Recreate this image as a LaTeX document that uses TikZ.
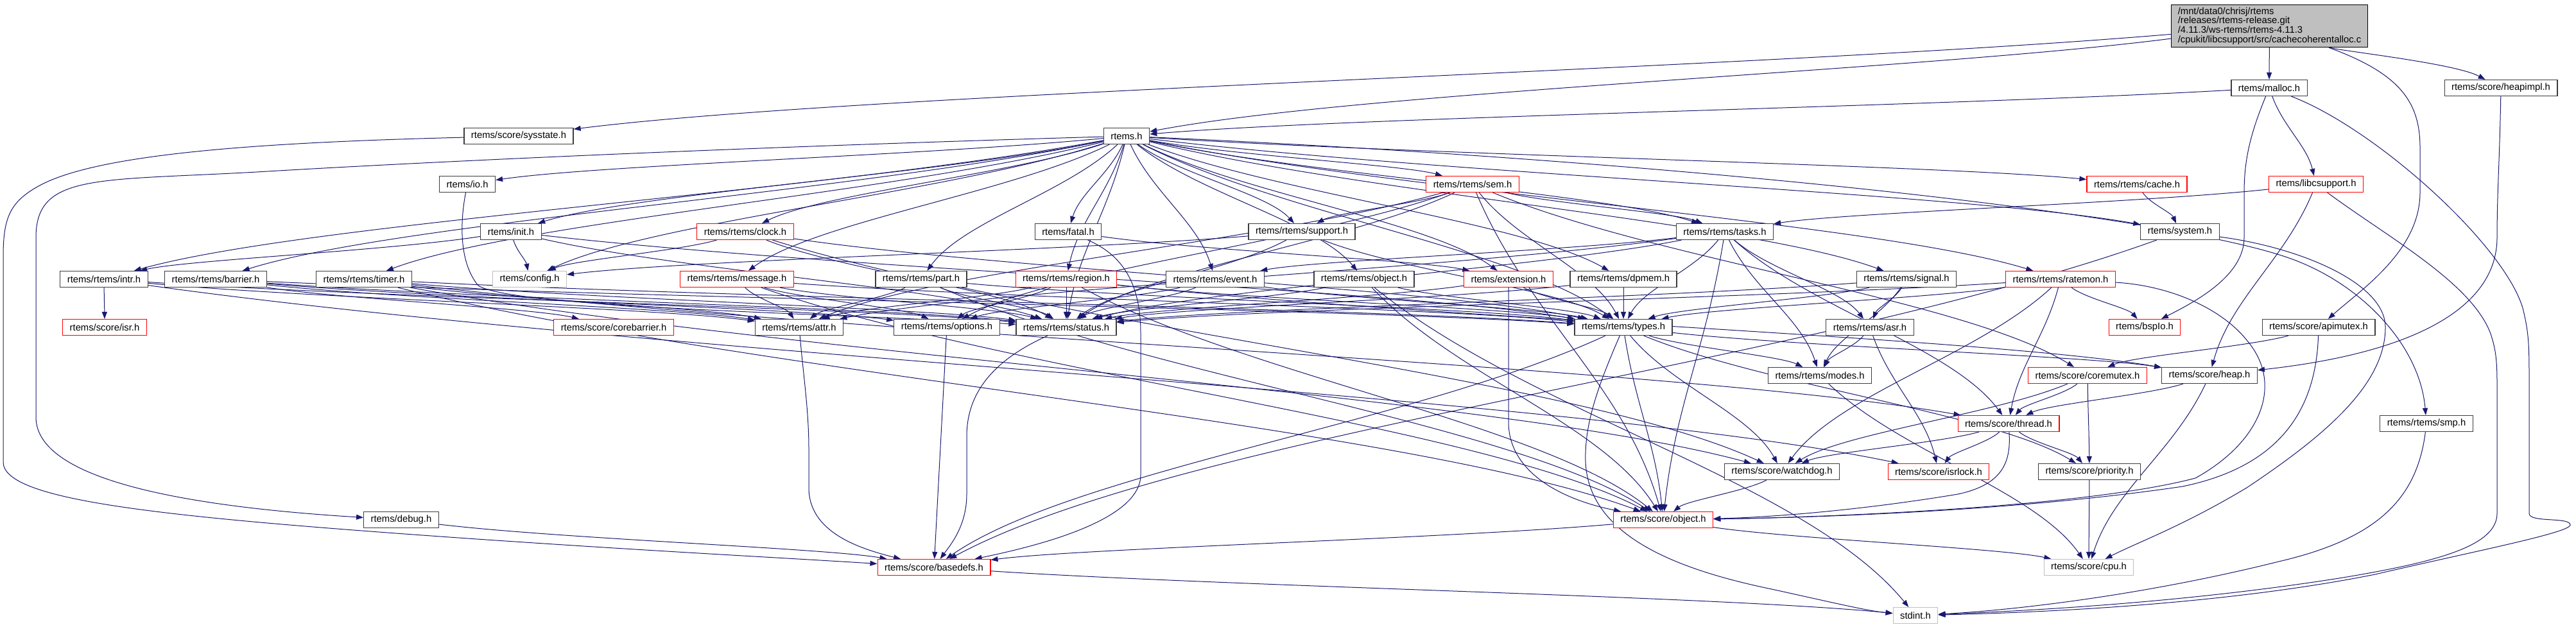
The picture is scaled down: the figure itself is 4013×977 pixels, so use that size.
\documentclass[tikz,border=0pt]{standalone}
\usepackage{fontspec}
\setmainfont{Liberation Sans}
\usetikzlibrary{arrows.meta,calc}
\pgfdeclarelayer{bg}
\pgfsetlayers{bg,main}
\definecolor{edgeblue}{RGB}{25,25,112}
\definecolor{nodeborder}{RGB}{60,60,60}
\definecolor{lightborder}{RGB}{191,191,191}
\definecolor{topfill}{RGB}{191,191,191}
\definecolor{truncred}{RGB}{255,0,0}
\tikzset{
  file/.style={draw=nodeborder, line width=1.2pt, fill=white, rectangle, minimum height=25pt, inner xsep=11pt, inner ysep=0pt, font=\fontsize{14.8}{14.8}\selectfont},
  trunc/.style={file, draw=truncred},
  extfile/.style={file, draw=lightborder},
  rootfile/.style={file, fill=topfill, draw=black, align=left, inner xsep=10.5pt, inner ysep=4pt},
  inclink/.style={draw=edgeblue, line width=1pt, -{Triangle[length=11pt,width=8pt]}},
}
\newcommand\incl[2]{\draw[inclink] let \p1=(#1.center), \p2=(#2.center) in (#1) .. controls ({\x1+0.3*(\x2-\x1)},{\y1+0.4*(\y2-\y1)}) and ({\x2-0.2*(\x2-\x1)},{\y2-0.4*(\y2-\y1)}) .. (#2);}
\newcommand\incls[2]{\foreach \tgt in {#2} {\incl{#1}{\tgt}}}
\begin{document}
\begin{tikzpicture}[x=1pt,y=-1pt]
\useasboundingbox (0,0) rectangle (4013,977);
% nodes
\node[rootfile] (top) at (3535.5,40.5) {/mnt/data0/chrisj/rtems\\/releases/rtems-release.git\\/4.11.3/ws-rtems/rtems-4.11.3\\/cpukit/libcsupport/src/cachecoherentalloc.c};
\node[file] (malloc) at (3535,137) {rtems/malloc.h};
\node[file] (heapimpl) at (3896,137) {rtems/score/heapimpl.h};
\node[file] (sysstate) at (808,212) {rtems/score/sysstate.h};
\node[file] (rtems) at (1755,212) {rtems.h};
\node[file] (io) at (728,287) {rtems/io.h};
\node[trunc] (sem) at (2294,287) {rtems/rtems/sem.h};
\node[trunc] (cache) at (3329,287) {rtems/rtems/cache.h};
\node[trunc] (libc) at (3608,287) {rtems/libcsupport.h};
\node[file] (init) at (796,361) {rtems/init.h};
\node[trunc] (clock) at (1161,361) {rtems/rtems/clock.h};
\node[file] (fatal) at (1664,361) {rtems/fatal.h};
\node[file] (support) at (2028,361) {rtems/rtems/support.h};
\node[file] (tasks) at (2687,361) {rtems/rtems/tasks.h};
\node[file] (system) at (3396,361) {rtems/system.h};
\node[file] (intr) at (162,435) {rtems/rtems/intr.h};
\node[file] (barrier) at (336,435) {rtems/rtems/barrier.h};
\node[file] (timer) at (567,435) {rtems/rtems/timer.h};
\node[extfile] (config) at (825,435) {rtems/config.h};
\node[trunc] (message) at (1148,435) {rtems/rtems/message.h};
\node[file] (part) at (1435,435) {rtems/rtems/part.h};
\node[trunc] (region) at (1661,435) {rtems/rtems/region.h};
\node[file] (event) at (1893,435) {rtems/rtems/event.h};
\node[file] (robject) at (2125,435) {rtems/rtems/object.h};
\node[trunc] (extension) at (2350,435) {rtems/extension.h};
\node[file] (dpmem) at (2529,435) {rtems/rtems/dpmem.h};
\node[file] (signal) at (2970,435) {rtems/rtems/signal.h};
\node[trunc] (ratemon) at (3210,435) {rtems/rtems/ratemon.h};
\node[trunc] (isr) at (163,510) {rtems/score/isr.h};
\node[trunc] (corebarrier) at (956,510) {rtems/score/corebarrier.h};
\node[file] (attr) at (1245,510) {rtems/rtems/attr.h};
\node[file] (options) at (1475,510) {rtems/rtems/options.h};
\node[file] (status) at (1661,510) {rtems/rtems/status.h};
\node[file] (types) at (2529,510) {rtems/rtems/types.h};
\node[file] (asr) at (2913,510) {rtems/rtems/asr.h};
\node[trunc] (bspio) at (3341,510) {rtems/bspIo.h};
\node[file] (apimutex) at (3612,510) {rtems/score/apimutex.h};
\node[file] (modes) at (2835,585) {rtems/rtems/modes.h};
\node[trunc] (coremutex) at (3252,585) {rtems/score/coremutex.h};
\node[file] (heap) at (3442,585) {rtems/score/heap.h};
\node[trunc] (thread) at (3129,660) {rtems/score/thread.h};
\node[file] (smp) at (3780,660) {rtems/rtems/smp.h};
\node[file] (watchdog) at (2776,735) {rtems/score/watchdog.h};
\node[trunc] (isrlock) at (3020,735) {rtems/score/isrlock.h};
\node[file] (priority) at (3255,735) {rtems/score/priority.h};
\node[file] (debug) at (625,810) {rtems/debug.h};
\node[trunc] (sobject) at (2591,810) {rtems/score/object.h};
\node[trunc] (basedefs) at (1455,884) {rtems/score/basedefs.h};
\node[extfile] (cpu) at (3254,884) {rtems/score/cpu.h};
\node[extfile] (stdint) at (2984,959) {stdint.h};
\begin{pgfonlayer}{bg}
\fill[white] (0,0) rectangle (4013,977);
% generic edges
\incls{top}{rtems,malloc,heapimpl,sysstate}
\incls{malloc}{rtems,libc}
\incls{libc}{tasks,heap}
\incls{rtems}{io,init,intr,barrier,timer,clock,message,sem,config,fatal,support,tasks,part,region,event,robject,extension,dpmem,signal,ratemon,cache,system,status,types}
\incls{init}{intr,config,status,types}
\incls{sem}{support,tasks,attr,options,status,types,coremutex,sobject}
\incls{cache}{system}
\incls{clock}{config,status,types,watchdog}
\incls{fatal}{extension}
\incls{support}{types,status,config}
\incls{tasks}{asr,attr,status,types,modes,sobject,thread,event}
\incls{system}{basedefs}
\incls{intr}{attr,status,isr,isrlock}
\incls{barrier}{attr,status,types,options,corebarrier}
\incls{timer}{attr,status,types,sobject,watchdog,thread}
\incls{message}{attr,status,types,options,sobject}
\incls{part}{attr,status,types,sobject}
\incls{region}{attr,status,types,options,heap,sobject}
\incls{event}{status,types,options}
\incls{robject}{types,status,sobject,stdint}
\incls{extension}{status,types}
\incls{dpmem}{status,types}
\incls{signal}{asr,modes,status,types}
\incls{ratemon}{status,types,watchdog,thread,bspio}
\incls{types}{basedefs,heap,sobject,priority,watchdog,modes}
\incls{asr}{modes,isrlock}
\incls{apimutex}{coremutex}
\incls{modes}{cpu}
\incls{coremutex}{thread,watchdog,priority}
\incls{heap}{thread,cpu}
\incls{thread}{watchdog,isrlock,priority}
\incls{watchdog}{sobject}
\incls{priority}{cpu}
\incls{sobject}{basedefs,cpu}
\incls{debug}{basedefs}
\incls{basedefs}{stdint}
% hand-routed edges
\draw[inclink] (options) -- (basedefs);
\draw[inclink] (top) .. controls (3740,115) and (3770,160) .. (3770,230) -- (3770,300) .. controls (3770,390) and (3680,450) .. (apimutex);
\draw[inclink] (malloc) .. controls (3505,210) and (3496,250) .. (3496,300) -- (3496,370) .. controls (3496,430) and (3420,470) .. (bspio);
\draw[inclink] (malloc) .. controls (3700,200) and (3900,380) .. (3930,480) .. controls (3940,520) and (3940,540) .. (3940,600) -- (3940,800) .. controls (3940,815) and (4004,805) .. (4004,818) .. controls (4004,830) and (3850,860) .. (3700,895) .. controls (3450,945) and (3150,955) .. (stdint);
\draw[inclink] (libc) .. controls (3720,370) and (3850,440) .. (3880,520) .. controls (3888,545) and (3890,560) .. (3890,600) -- (3890,800) .. controls (3890,850) and (3800,875) .. (3650,900) .. controls (3400,940) and (3150,952) .. (stdint);
\draw[inclink] (smp) .. controls (3765,780) and (3700,840) .. (3550,875) .. controls (3350,925) and (3150,950) .. (stdint);
\draw[inclink] (heapimpl) .. controls (3894,250) and (3890,300) .. (3890,370) .. controls (3890,480) and (3760,550) .. (heap);
\draw[inclink] (sysstate) .. controls (400,222) and (150,240) .. (60,290) .. controls (15,315) and (5,340) .. (5,400) -- (5,720) .. controls (5,780) and (250,805) .. (700,837) .. controls (1000,858) and (1200,868) .. (basedefs);
\draw[inclink] (rtems) .. controls (1200,228) and (700,250) .. (400,268) .. controls (150,282) and (56,270) .. (56,370) -- (56,650) .. controls (56,750) and (300,790) .. (debug);
\draw[inclink] (fatal) .. controls (1755,400) and (1777,450) .. (1777,520) -- (1777,740) .. controls (1777,810) and (1620,850) .. (basedefs);
\draw[inclink] (status) .. controls (1550,560) and (1506,610) .. (1506,680) -- (1506,770) .. controls (1506,820) and (1480,850) .. (basedefs);
\draw[inclink] (attr) .. controls (1252,590) and (1260,640) .. (1260,700) -- (1260,760) .. controls (1260,830) and (1340,855) .. (basedefs);
\draw[inclink] (extension) .. controls (2350,520) and (2350,560) .. (2350,620) -- (2350,660) .. controls (2352,740) and (2440,780) .. (sobject);
\draw[inclink] (types) .. controls (2490,600) and (2468,660) .. (2470,720) .. controls (2475,830) and (2600,885) .. (2760,918) .. controls (2860,940) and (2910,952) .. (stdint);
\draw[inclink] (system) .. controls (3580,385) and (3716,440) .. (3716,510) .. controls (3716,600) and (3620,680) .. (3500,760) .. controls (3400,820) and (3330,845) .. (cpu);
\draw[inclink] (apimutex) .. controls (3608,630) and (3560,725) .. (3400,758) .. controls (3150,795) and (2850,806) .. (sobject);
\draw[inclink] (thread) .. controls (3133,720) and (3120,755) .. (3050,770) .. controls (2900,795) and (2760,806) .. (sobject);
\draw[inclink] (ratemon) .. controls (3380,445) and (3460,480) .. (3500,530) .. controls (3560,600) and (3520,690) .. (3420,745) .. controls (3250,790) and (2850,806) .. (sobject);
\draw[inclink] (rtems) .. controls (2600,250) and (3350,330) .. (3560,400) .. controls (3680,440) and (3770,540) .. (smp);
\draw[inclink] (io) .. controls (716,350) and (716,410) .. (745,445) .. controls (800,480) and (1300,488) .. (status);
\end{pgfonlayer}
\end{tikzpicture}
\end{document}
